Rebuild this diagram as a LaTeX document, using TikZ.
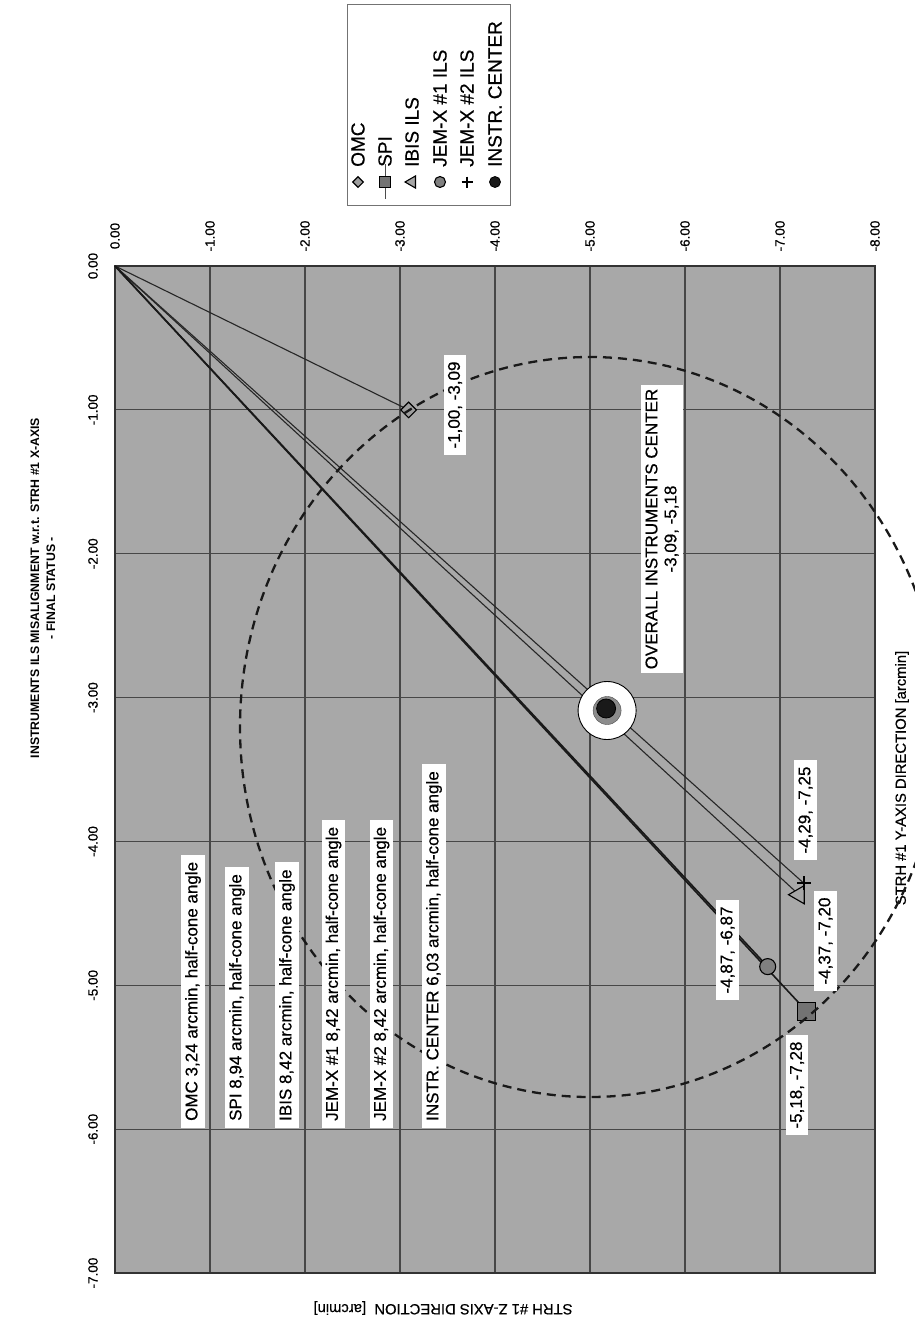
\documentclass[tikz,border=0pt]{standalone}
\usepackage{fontspec}
\setmainfont{Liberation Sans}
\newfontfamily\heavy[FakeBold=0.5]{Liberation Sans}
\usetikzlibrary{shapes.geometric}
\begin{document}
\begin{tikzpicture}[x=1pt,y=-1pt,
  gridl/.style={draw=black!72, line width=1.1pt},
  ticklab/.style={rotate=90, font=\heavy\fontsize{13.5}{15}\selectfont, inner sep=1pt},
  lab/.style={fill=white, rotate=90, font=\heavy\fontsize{17}{19}\selectfont, inner xsep=7pt, inner ysep=4pt},
  conelab/.style={lab, anchor=west},
  legtxt/.style={rotate=90, anchor=west, font=\heavy\fontsize{19}{21}\selectfont, inner sep=1pt},
  dataline/.style={draw=black!85, line width=1.1pt},
  boldline/.style={draw=black!90, line width=1.6pt},
  omcmark/.style={diamond, draw=black, fill=black!38, line width=1.1pt, inner sep=0pt, minimum size=#1},
  spimark/.style={rectangle, draw=black, fill=black!55, line width=1.1pt, inner sep=0pt, minimum size=#1},
  ibismark/.style={regular polygon, regular polygon sides=3, rotate=90, draw=black, fill=black!35, line width=1.1pt, inner sep=0pt, minimum size=#1},
  jemmark/.style={circle, draw=black, fill=black!50, line width=1.1pt, inner sep=0pt, minimum size=#1},
  ctrmark/.style={circle, draw=black, fill=black!90, line width=0.8pt, inner sep=0pt, minimum size=#1}
]
\useasboundingbox (0,0) rectangle (915,1322);
\fill[white] (0,0) rectangle (915,1322);

% plot area
\fill[black!34] (115,266) rectangle (875,1273);
\foreach \i in {1,...,7} \draw[gridl] ({115+95*\i},266) -- ({115+95*\i},1273);
\foreach \j in {1,...,6} \draw[gridl] (115,{266+143.86*\j}) -- (875,{266+143.86*\j});
\draw[draw=black!80, line width=1.3pt] (115,266) rectangle (875,1273);

% tick labels (top: Y axis, left: Z axis)
\foreach \i in {0,...,8} \node[ticklab] (tt\i) at ({115+95*\i},236) {\ifnum\i=0 0.00\else -\i.00\fi};
\foreach \j in {0,...,7} \node[ticklab] (tl\j) at (93,{266+143.86*\j}) {\ifnum\j=0 0.00\else -\j.00\fi};

% title and axis labels
\node[rotate=90, align=center, font=\bfseries\fontsize{12.3}{16}\selectfont] (title) at (43,588)
  {INSTRUMENTS ILS MISALIGNMENT w.r.t. STRH \#1 X-AXIS\\- FINAL STATUS -};
\node[rotate=180, font=\heavy\fontsize{14.8}{16}\selectfont] (zlab) at (443,1308) {STRH \#1 Z-AXIS DIRECTION\ \ [arcmin]};
\node[rotate=90, font=\heavy\fontsize{14.8}{16}\selectfont] (ylab) at (902,778) {STRH \#1 Y-AXIS DIRECTION [arcmin]};

% data points
\coordinate (O) at (115,266);
\coordinate (omc) at (408.6,409.9);
\coordinate (spi) at (806.6,1011.2);
\coordinate (ibis) at (799,894.7);
\coordinate (jem1) at (767.7,966.6);
\coordinate (jem2) at (803.8,883.2);
\coordinate (ctr) at (607.1,710.5);

\draw[dataline] (O) -- (omc);
\draw[dataline] (O) -- (ibis);
\draw[dataline] (O) -- (jem2);
\draw[boldline] (O) -- (spi);
\draw[boldline] (O) -- (jem1);

% instrument centre ring
\node[circle, fill=white, draw=black, line width=0.9pt, minimum size=58pt, inner sep=0pt] (ring) at (ctr) {};
\node[circle, fill=black!45, draw=black!70, minimum size=28pt, inner sep=0pt] (ctrhalo) at (ctr) {};
\node[ctrmark=19pt] (ctrm) at ([xshift=-1pt,yshift=2pt]ctr) {};

% markers
\node[omcmark=16pt] (momc) at (omc) {};
\node[jemmark=16pt] (mjem1) at (jem1) {};
\node[ibismark=21pt] (mibis) at (ibis) {};
\node[spimark=18pt] (mspi) at (spi) {};
\draw[line width=1.5pt] ([xshift=-7pt]jem2) -- ([xshift=7pt]jem2) ([yshift=-7pt]jem2) -- ([yshift=7pt]jem2);

% dashed half-cone circle
\begin{scope}
\clip (0,0) rectangle (915,1322);
\draw[black!90, line width=2.3pt, dash pattern=on 9pt off 6pt] (590,727) ellipse [x radius=350, y radius=370];
\end{scope}

% half-cone labels
\node[conelab] (lomc) at (193,1128) {OMC 3,24 arcmin, half-cone angle};
\node[conelab] (lspi) at (237,1128) {SPI 8,94 arcmin, half-cone angle};
\node[conelab] (libis) at (287,1128) {IBIS 8,42 arcmin, half-cone angle};
\node[conelab] (ljem1) at (333.5,1128) {JEM-X \#1 8,42 arcmin, half-cone angle};
\node[conelab] (ljem2) at (381.5,1128) {JEM-X \#2 8,42 arcmin, half-cone angle};
\node[conelab] (lctr) at (434,1128) {INSTR. CENTER 6,03 arcmin, half-cone angle};

% data labels
\node[lab] (domc) at (455,405) {-1,00, -3,09};
\node[lab, align=center, inner xsep=4pt] (dctr) at (662,529) {OVERALL INSTRUMENTS CENTER\\-3,09, -5,18};
\node[lab] (djem2) at (805.5,810) {-4,29, -7,25};
\node[lab] (dibis) at (825.5,941) {-4,37, -7,20};
\node[lab] (djem1) at (727.5,950) {-4,87, -6,87};
\node[lab] (dspi) at (797,1085) {-5,18, -7,28};

% legend
\node[draw=black!55, fill=white, line width=1pt, minimum width=163pt, minimum height=200pt, inner sep=0pt] (legend) at (428.5,105) {};
\node[omcmark=11pt] (lgm1) at (358,182) {};
\draw[black!70, line width=0.8pt] (385,164) -- (385,199);
\node[spimark=11pt] (lgm2) at (385,182) {};
\node[ibismark=14pt] (lgm3) at (412,182) {};
\node[jemmark=11pt] (lgm4) at (440,182) {};
\draw[line width=1.2pt] (461.5,182) -- (472.5,182) (467,176.5) -- (467,187.5);
\node[ctrmark=11pt] (lgm6) at (495,182) {};
\node[legtxt] (lg1) at (358,168) {OMC};
\node[legtxt] (lg2) at (385,168) {SPI};
\node[legtxt] (lg3) at (412,168) {IBIS ILS};
\node[legtxt] (lg4) at (440,168) {JEM-X \#1 ILS};
\node[legtxt] (lg5) at (467,168) {JEM-X \#2 ILS};
\node[legtxt] (lg6) at (495,168) {INSTR. CENTER};
\end{tikzpicture}
\end{document}
